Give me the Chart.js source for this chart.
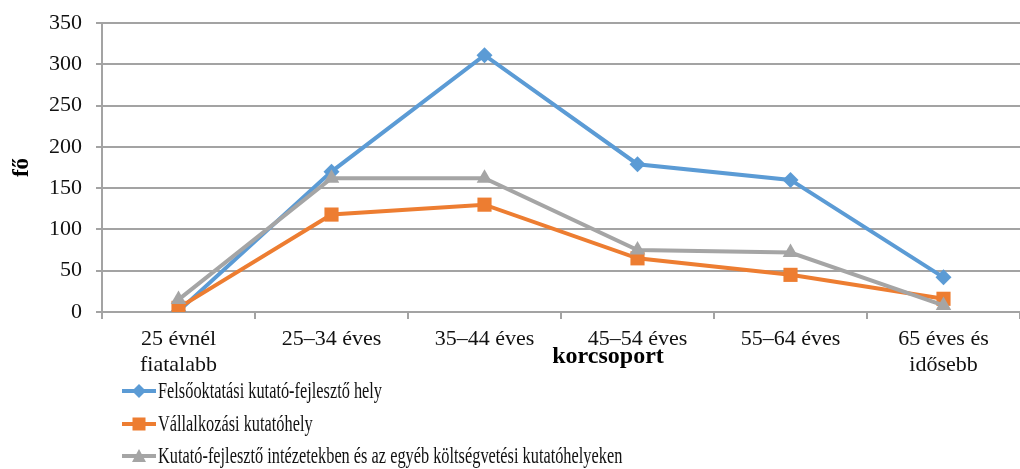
<!DOCTYPE html>
<html>
<head>
<meta charset="utf-8">
<script src="https://cdn.jsdelivr.net/npm/chart.js@4/dist/chart.umd.min.js"></script>
<style>
  body { margin: 0; background: #fff; overflow: hidden; width: 1020px; height: 469px; position: relative; }
  #wrap { position: absolute; left: 0; top: 0; width: 1030px; height: 380px; }
  #legend { position: absolute; left: 122px; top: 375px; font-family: "Liberation Serif", serif; font-size: 23px; color: #111; }
  .item { height: 32.5px; display: flex; align-items: center; white-space: nowrap; }
  .item svg { margin-right: 2px; }
  .item span { display: inline-block; transform: scaleX(0.71); transform-origin: left center; }
</style>
</head>
<body>
<div id="wrap"><canvas id="chart"></canvas></div>
<div id="legend"></div>
<script>
const categories = [['25 évnél', 'fiatalabb'], '25–34 éves', '35–44 éves', '45–54 éves', '55–64 éves', ['65 éves és', 'idősebb']];
const felsooktatasi = [1, 170, 311, 179, 160, 42];
const vallalkozasi = [5, 118, 130, 65, 45, 16];
const intezeti = [15, 162, 162, 75, 72, 8];
const yTicks = [0, 50, 100, 150, 200, 250, 300, 350];

const seriesNames = [
    'Felsőoktatási kutató-fejlesztő hely',
    'Vállalkozási kutatóhely',
    'Kutató-fejlesztő intézetekben és az egyéb költségvetési kutatóhelyeken'
];
const colors = ['#5B9BD5', '#ED7D31', '#A5A5A5'];
const pointStyles = ['rectRot', 'rect', 'triangle'];
const pointRadii = [8, 10, 9];
const gridColor = '#a3a3a3';
const serif = '"Liberation Serif", "Times New Roman", serif';

const xTitle = {
    id: 'xTitle',
    afterDraw(chart) {
        const ctx = chart.ctx;
        const a = chart.chartArea;
        ctx.save();
        ctx.font = 'bold 24px ' + serif;
        ctx.fillStyle = '#000';
        ctx.textAlign = 'center';
        ctx.textBaseline = 'middle';
        ctx.fillText('korcsoport', (a.left + a.right) / 2 + 47, 357);
        ctx.restore();
    }
};

const allSeries = [felsooktatasi, vallalkozasi, intezeti];

new Chart(document.getElementById('chart').getContext('2d'), {
    type: 'line',
    data: {
        labels: categories,
        datasets: allSeries.map((vals, i) => ({
            label: seriesNames[i],
            data: vals,
            borderColor: colors[i],
            backgroundColor: colors[i],
            borderWidth: 4,
            pointStyle: pointStyles[i],
            pointRadius: pointRadii[i],
            pointBorderWidth: 0,
            pointBackgroundColor: colors[i],
            tension: 0,
            fill: false,
            order: 2 - i
        }))
    },
    options: {
        responsive: true,
        maintainAspectRatio: false,
        animation: false,
        layout: { padding: { top: 23, right: 2, left: 2, bottom: 0 } },
        plugins: {
            legend: { display: false },
            tooltip: { enabled: false }
        },
        scales: {
            x: {
                offset: true,
                grid: { offset: true, drawOnChartArea: false, drawTicks: true, tickLength: 7, color: gridColor, lineWidth: 2 },
                border: { color: gridColor, width: 2 },
                ticks: { color: '#111', padding: 8, maxRotation: 0, autoSkip: false, font: { family: serif, size: 22, lineHeight: 1.15 } },
                afterFit: s => { s.height = 68; s.paddingLeft = 0; s.paddingRight = 0; }
            },
            y: {
                min: 0,
                max: 350,
                afterBuildTicks: s => { s.ticks = yTicks.map(v => ({ value: v })); },
                grid: { color: gridColor, lineWidth: 2, tickLength: 6 },
                border: { color: gridColor, width: 2 },
                ticks: { color: '#111', padding: 14, font: { family: serif, size: 22 } },
                title: { display: true, text: 'fő', color: '#000', padding: { top: 6, bottom: 0 }, font: { family: serif, size: 23, weight: 'bold' } },
                afterFit: s => { s.width = 100; s.paddingTop = 0; s.paddingBottom = 0; }
            }
        }
    },
    plugins: [xTitle]
});

// legend, one series per row
const legend = document.getElementById('legend');
seriesNames.forEach((name, i) => {
    const row = document.createElement('div');
    row.className = 'item';
    let marker;
    if (i === 0) marker = '<polygon points="17,1 24,8 17,15 10,8" fill="' + colors[i] + '"/>';
    else if (i === 1) marker = '<rect x="10.5" y="1.5" width="13" height="13" fill="' + colors[i] + '"/>';
    else marker = '<polygon points="17,1 24,14 10,14" fill="' + colors[i] + '"/>';
    row.innerHTML = '<svg width="34" height="16"><line x1="0" y1="8" x2="34" y2="8" stroke="' + colors[i] + '" stroke-width="4"/>' + marker + '</svg><span>' + name + '</span>';
    legend.appendChild(row);
});
</script>
</body>
</html>
